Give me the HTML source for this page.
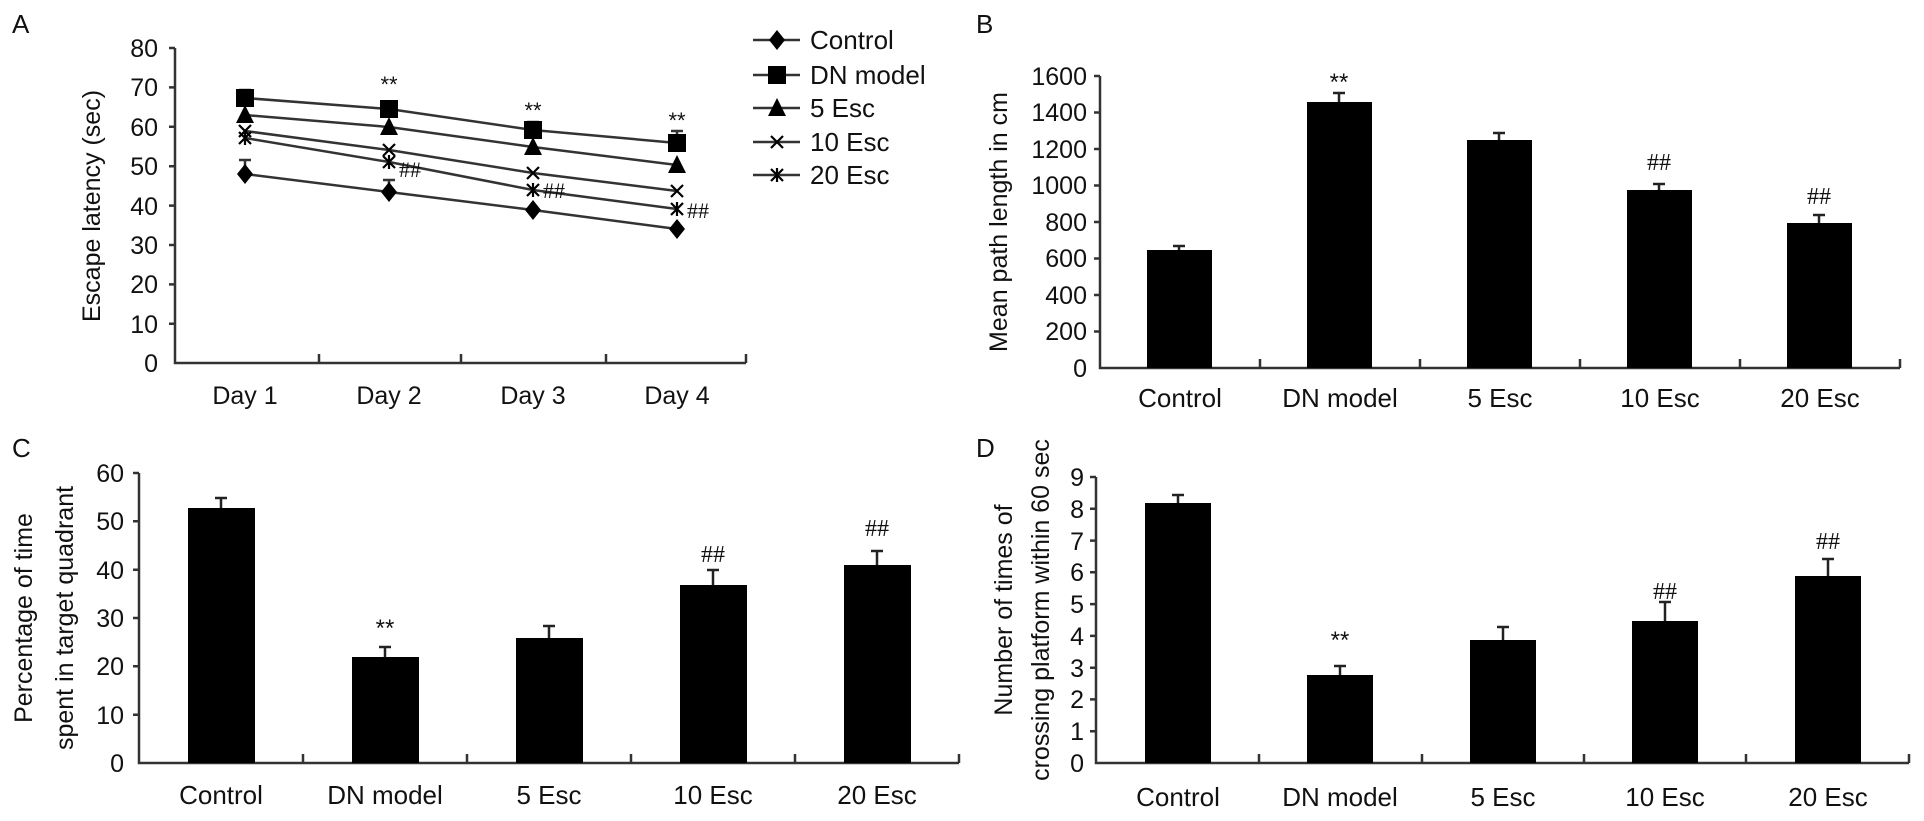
<!DOCTYPE html>
<html><head><meta charset="utf-8"><style>
html,body{margin:0;padding:0;background:#fff;}
svg{display:block;font-family:"Liberation Sans",Arial,sans-serif;fill:#111;}
.t{font-size:25px;}
.l{font-size:26px;}
</style></head><body>
<svg width="1924" height="821" viewBox="0 0 1924 821" xmlns="http://www.w3.org/2000/svg">
<defs>
<g id="dia"><polygon points="0,-10 8,0 0,10 -8,0" fill="#000"/></g>
<g id="sq"><rect x="-9" y="-9" width="18" height="18" fill="#000"/></g>
<g id="tri"><polygon points="0,-10 9,8 -9,8" fill="#000"/></g>
<g id="xx"><path d="M-6,-6L6,6M6,-6L-6,6" stroke="#000" stroke-width="2.2" fill="none"/></g>
<g id="st"><path d="M-6,-6L6,6M6,-6L-6,6M0,-7L0,7" stroke="#000" stroke-width="2.2" fill="none"/></g>
</defs>
<g stroke="#333" stroke-width="2.5" fill="none">
<!-- A axes -->
<path d="M175,48V363H746"/>
<path d="M169,48H175M169,87.4H175M169,126.8H175M169,166.2H175M169,205.6H175M169,245H175M169,284.4H175M169,323.8H175"/>
<path d="M319,363v-9M461,363v-9M606,363v-9M746,363v-9"/>
<!-- B axes -->
<path d="M1100,76V368H1900"/>
<path d="M1094,76H1100M1094,112.5H1100M1094,149H1100M1094,185.5H1100M1094,222H1100M1094,258.5H1100M1094,295H1100M1094,331.5H1100"/>
<path d="M1260,368v-9M1420,368v-9M1580,368v-9M1740,368v-9M1900,368v-9"/>
<!-- C axes -->
<path d="M139,473V763H959"/>
<path d="M133,473H139M133,521.3H139M133,569.7H139M133,618H139M133,666.3H139M133,714.7H139"/>
<path d="M303,763v-9M467,763v-9M631,763v-9M795,763v-9M959,763v-9"/>
<!-- D axes -->
<path d="M1096,477V763H1909"/>
<path d="M1090,477H1096M1090,508.8H1096M1090,540.6H1096M1090,572.3H1096M1090,604.1H1096M1090,635.9H1096M1090,667.7H1096M1090,699.4H1096M1090,731.2H1096"/>
<path d="M1259,763v-9M1422,763v-9M1584,763v-9M1746,763v-9M1909,763v-9"/>
</g>
<!-- A series lines -->
<g stroke="#333" stroke-width="2.5" fill="none">
<polyline points="245,98 389,109 533,130 677,143"/>
<polyline points="245,115 389,127 533,147 677,165"/>
<polyline points="245,131 389,150 533,173 677,191"/>
<polyline points="245,138 389,162 533,190 677,209"/>
<polyline points="245,174 389,192 533,210 677,229"/>
<!-- error bars -->
<path d="M245,174V160M239,160H251M389,192V180M383,180H395M389,109V103M533,130V122M527,122H539M677,143V131M671,131H683M245,98V90M239,90H251"/>
</g>
<g>
<use href="#sq" x="245" y="98"/><use href="#sq" x="389" y="109"/><use href="#sq" x="533" y="130"/><use href="#sq" x="677" y="143"/>
<use href="#tri" x="245" y="115"/><use href="#tri" x="389" y="127"/><use href="#tri" x="533" y="147"/><use href="#tri" x="677" y="165"/>
<use href="#xx" x="245" y="131"/><use href="#xx" x="389" y="150"/><use href="#xx" x="533" y="173"/><use href="#xx" x="677" y="191"/>
<use href="#st" x="245" y="138"/><use href="#st" x="389" y="162"/><use href="#st" x="533" y="190"/><use href="#st" x="677" y="209"/>
<use href="#dia" x="245" y="174"/><use href="#dia" x="389" y="192"/><use href="#dia" x="533" y="210"/><use href="#dia" x="677" y="229"/>
</g>
<!-- legend -->
<g stroke="#333" stroke-width="2.5"><path d="M753,40H800M753,75H800M753,108H800M753,142H800M753,175H800"/></g>
<use href="#dia" x="777" y="40"/><use href="#sq" x="777" y="75"/><use href="#tri" x="777" y="108"/><use href="#xx" x="777" y="142"/><use href="#st" x="777" y="175"/>
<g class="l"><text x="810" y="49">Control</text><text x="810" y="84">DN model</text><text x="810" y="117">5 Esc</text><text x="810" y="151">10 Esc</text><text x="810" y="184">20 Esc</text></g>
<!-- A labels -->
<g class="t" text-anchor="end">
<text x="158" y="57">80</text><text x="158" y="96">70</text><text x="158" y="136">60</text><text x="158" y="175">50</text><text x="158" y="215">40</text><text x="158" y="254">30</text><text x="158" y="293">20</text><text x="158" y="333">10</text><text x="158" y="372">0</text>
</g>
<g class="t" text-anchor="middle"><text x="245" y="404">Day 1</text><text x="389" y="404">Day 2</text><text x="533" y="404">Day 3</text><text x="677" y="404">Day 4</text></g>
<text class="t" transform="translate(100,206) rotate(-90)" text-anchor="middle">Escape latency (sec)</text>
<text class="l" x="12" y="33">A</text>
<g font-size="22" text-anchor="middle"><text x="389" y="92">**</text><text x="533" y="118">**</text><text x="677" y="128">**</text></g>
<g font-size="22" font-family="Liberation Serif,serif"><text x="399" y="177">##</text><text x="543" y="198">##</text><text x="687" y="218">##</text></g>

<!-- B -->
<g fill="#000">
<rect x="1147" y="250" width="65" height="118"/><rect x="1307" y="102" width="65" height="266"/><rect x="1467" y="140" width="65" height="228"/><rect x="1627" y="190" width="65" height="178"/><rect x="1787" y="223" width="65" height="145"/>
</g>
<g stroke="#222" stroke-width="2.5"><path d="M1179,250V246M1173,246H1185M1339,102V93M1333,93H1345M1499,140V133M1493,133H1505M1659,190V184M1653,184H1665M1819,223V215M1813,215H1825"/></g>
<g class="t" text-anchor="end">
<text x="1087" y="85">1600</text><text x="1087" y="121">1400</text><text x="1087" y="158">1200</text><text x="1087" y="194">1000</text><text x="1087" y="231">800</text><text x="1087" y="267">600</text><text x="1087" y="304">400</text><text x="1087" y="340">200</text><text x="1087" y="377">0</text>
</g>
<g class="l" text-anchor="middle"><text x="1180" y="407">Control</text><text x="1340" y="407">DN model</text><text x="1500" y="407">5 Esc</text><text x="1660" y="407">10 Esc</text><text x="1820" y="407">20 Esc</text></g>
<text class="t" transform="translate(1007,222) rotate(-90)" text-anchor="middle">Mean path length in cm</text>
<text class="l" x="976" y="33">B</text>
<text font-size="24" x="1339" y="90" text-anchor="middle">**</text>
<g font-size="24" font-family="Liberation Serif,serif" text-anchor="middle"><text x="1659" y="170">##</text><text x="1819" y="204">##</text></g>

<!-- C -->
<g fill="#000">
<rect x="188" y="508" width="67" height="255"/><rect x="352" y="657" width="67" height="106"/><rect x="516" y="638" width="67" height="125"/><rect x="680" y="585" width="67" height="178"/><rect x="844" y="565" width="67" height="198"/>
</g>
<g stroke="#222" stroke-width="2.5"><path d="M221,508V498M215,498H227M385,657V647M379,647H391M549,638V626M543,626H555M713,585V570M707,570H719M877,565V551M871,551H883"/></g>
<g class="t" text-anchor="end">
<text x="124" y="482">60</text><text x="124" y="530">50</text><text x="124" y="579">40</text><text x="124" y="627">30</text><text x="124" y="675">20</text><text x="124" y="724">10</text><text x="124" y="772">0</text>
</g>
<g class="l" text-anchor="middle"><text x="221" y="804">Control</text><text x="385" y="804">DN model</text><text x="549" y="804">5 Esc</text><text x="713" y="804">10 Esc</text><text x="877" y="804">20 Esc</text></g>
<g class="t" text-anchor="middle"><text transform="translate(32,618) rotate(-90)">Percentage of time</text><text transform="translate(73,618) rotate(-90)">spent in target quadrant</text></g>
<text class="l" x="12" y="457">C</text>
<text font-size="24" x="385" y="636" text-anchor="middle">**</text>
<g font-size="24" font-family="Liberation Serif,serif" text-anchor="middle"><text x="713" y="562">##</text><text x="877" y="536">##</text></g>

<!-- D -->
<g fill="#000">
<rect x="1145" y="503" width="66" height="260"/><rect x="1307" y="675" width="66" height="88"/><rect x="1470" y="640" width="66" height="123"/><rect x="1632" y="621" width="66" height="142"/><rect x="1795" y="576" width="66" height="187"/>
</g>
<g stroke="#222" stroke-width="2.5"><path d="M1178,503V495M1172,495H1184M1340,675V666M1334,666H1346M1503,640V627M1497,627H1509M1665,621V602M1659,602H1671M1828,576V559M1822,559H1834"/></g>
<g class="t" text-anchor="end">
<text x="1084" y="486">9</text><text x="1084" y="518">8</text><text x="1084" y="550">7</text><text x="1084" y="581">6</text><text x="1084" y="613">5</text><text x="1084" y="645">4</text><text x="1084" y="677">3</text><text x="1084" y="708">2</text><text x="1084" y="740">1</text><text x="1084" y="772">0</text>
</g>
<g class="l" text-anchor="middle"><text x="1178" y="806">Control</text><text x="1340" y="806">DN model</text><text x="1503" y="806">5 Esc</text><text x="1665" y="806">10 Esc</text><text x="1828" y="806">20 Esc</text></g>
<g class="t" text-anchor="middle"><text transform="translate(1012,610) rotate(-90)">Number of times of</text><text transform="translate(1049,610) rotate(-90)">crossing platform within 60 sec</text></g>
<text class="l" x="976" y="457">D</text>
<text font-size="24" x="1340" y="648" text-anchor="middle">**</text>
<g font-size="24" font-family="Liberation Serif,serif" text-anchor="middle"><text x="1665" y="599">##</text><text x="1828" y="549">##</text></g>
</svg>
</body></html>
